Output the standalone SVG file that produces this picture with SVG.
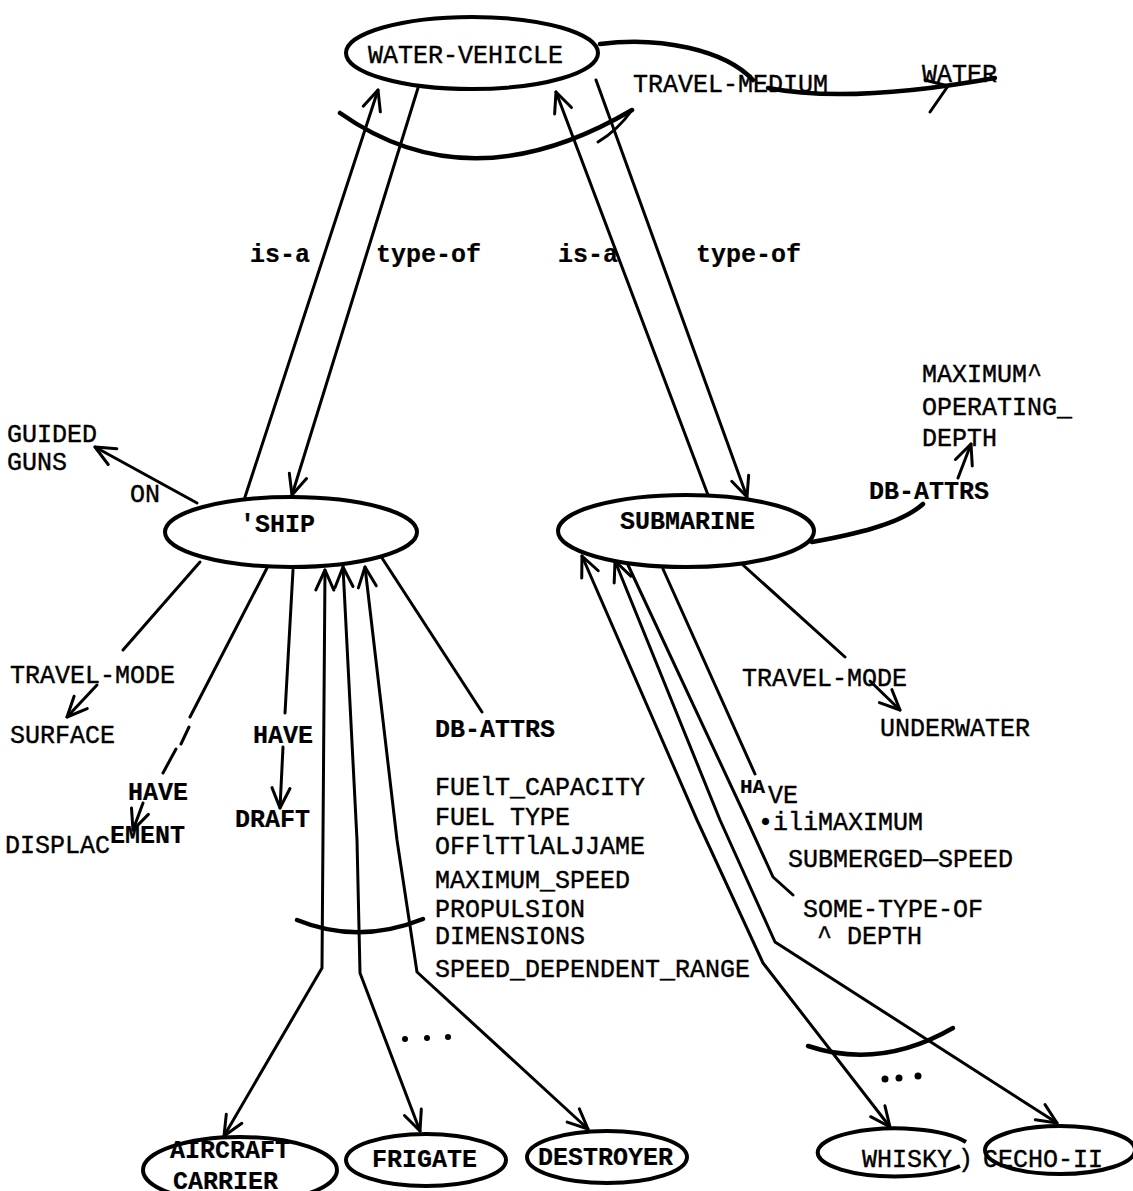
<svg xmlns="http://www.w3.org/2000/svg" width="1133" height="1191" viewBox="0 0 1133 1191">
<defs>
<style>
.e{fill:none;stroke:#000;stroke-width:4}
.c{fill:none;stroke:#000;stroke-width:3;stroke-linecap:round;stroke-linejoin:round}
.k{stroke-width:4.5}
.t{font-family:"Liberation Mono","Courier New",monospace;font-size:25px;fill:#000;stroke:#000;stroke-width:0.4}
.b{font-weight:bold;stroke-width:0.2}
</style>
<marker id="a" markerUnits="userSpaceOnUse" viewBox="0 0 24 24" markerWidth="24" markerHeight="24" refX="22" refY="12" orient="auto-start-reverse">
<path d="M2,3 L22,12 L2,21" fill="none" stroke="#000" stroke-width="3" stroke-linecap="round" stroke-linejoin="round"/>
</marker>
</defs>
<rect width="1133" height="1191" fill="#fff"/>

<g id="connectors">
<path class="c k" d="M600,44 C660,36 725,50 753,80"/>
<path class="c k" d="M768,88 Q850,104 995,78"/>
<path class="c" d="M925,80 L948,86 L930,112"/>
<path class="c k" d="M340,113 Q470,205 632,110"/>
<path class="c" stroke-width="7" d="M598,142 Q618,130 632,110"/>
<path class="c" d="M245,497 L378,90" marker-end="url(#a)"/>
<path class="c" d="M418,88 L292,495" marker-end="url(#a)"/>
<path class="c" d="M708,495 L556,92" marker-end="url(#a)"/>
<path class="c" d="M596,80 L747,497" marker-end="url(#a)"/>
<path class="c" d="M197,503 L95,447" marker-end="url(#a)"/>
<path class="c" d="M200,562 L123,650"/>
<path class="c" d="M97,685 L67,717" marker-end="url(#a)"/>
<path class="c" d="M267,568 L190,717 M189,727 L181,744 M176,749 L163,773"/>
<path class="c" d="M143,803 L133,830" marker-end="url(#a)"/>
<path class="c" d="M293,570 L285,713"/>
<path class="c" d="M283,747 L280,808" marker-end="url(#a)"/>
<path class="c" d="M224,1136 L322,968 L325,570" marker-start="url(#a)" marker-end="url(#a)"/>
<path class="c" d="M420,1131 L360,973 L357,840 L343,567" marker-start="url(#a)" marker-end="url(#a)"/>
<path class="c" d="M588,1129 L417,972 L397,840 L365,567" marker-start="url(#a)" marker-end="url(#a)"/>
<path class="c" d="M382,558 L482,712"/>
<path class="c k" d="M297,920 Q358,945 423,919"/>
<path class="c k" d="M812,542 C850,535 900,525 923,504"/>
<path class="c" d="M958,478 L971,444" marker-end="url(#a)"/>
<path class="c" d="M743,565 L845,657"/>
<path class="c" d="M870,681 L900,710" marker-end="url(#a)"/>
<path class="c" d="M663,569 L755,774"/>
<path class="c" d="M890,1127 L763,963 L697,820 L582,556" marker-start="url(#a)" marker-end="url(#a)"/>
<path class="c" d="M1057,1123 L775,942 L720,820 L615,561" marker-start="url(#a)" marker-end="url(#a)"/>
<path class="c" d="M628,565 L747,820 L773,877 L793,895"/>
<path class="c k" d="M808,1046 Q880,1070 953,1028"/>
<g fill="#000">
<circle cx="405" cy="1039" r="3"/><circle cx="427" cy="1038" r="3"/><circle cx="448" cy="1037" r="3"/>
<circle cx="885" cy="1079" r="3.5"/><circle cx="899" cy="1078" r="3.5"/><circle cx="918" cy="1076" r="3.5"/>
</g>
</g>

<g id="labels" class="t">
<text x="633" y="92">TRAVEL-MEDIUM</text>
<text class="b" x="250" y="262">is-a</text>
<text class="b" x="376" y="262">type-of</text>
<text class="b" x="558" y="262">is-a</text>
<text class="b" x="696" y="262">type-of</text>
<text x="130" y="502">ON</text>
<text x="10" y="683">TRAVEL-MODE</text>
<text class="b" x="128" y="800">HAVE</text>
<text class="b" x="253" y="743">HAVE</text>
<text class="b" x="435" y="737">DB-ATTRS</text>
<text class="b" x="869" y="499">DB-ATTRS</text>
<text x="742" y="686">TRAVEL-MODE</text>
<text class="b" x="740" y="793" font-size="21">HA</text>
<text x="768" y="803">VE</text>
</g>

<g id="water-vehicle"><ellipse class="e" cx="472" cy="53" rx="126" ry="36"/><text class="t" x="368" y="63">WATER-VEHICLE</text></g>
<g id="water"><text class="t" x="922" y="82">WATER</text></g>
<g id="ship"><ellipse class="e" cx="291" cy="532" rx="126" ry="35"/><text class="t b" x="240" y="532">'SHIP</text></g>
<g id="submarine"><ellipse class="e" cx="686" cy="531" rx="128" ry="36"/><text class="t b" x="620" y="529">SUBMARINE</text></g>
<g id="guided-guns"><text class="t" x="7" y="442">GUIDED</text><text class="t" x="7" y="470">GUNS</text></g>
<g id="surface"><text class="t" x="10" y="743">SURFACE</text></g>
<g id="displacement"><text class="t" x="5" y="853">DISPLAC</text><text class="t b" x="110" y="843">EMENT</text></g>
<g id="draft"><text class="t b" x="235" y="827">DRAFT</text></g>
<g id="ship-attrs" class="t">
<text x="435" y="795">FUElT_CAPACITY</text>
<text x="435" y="825">FUEL TYPE</text>
<text x="435" y="854">OFFlTTlALJJAME</text>
<text x="435" y="888">MAXIMUM_SPEED</text>
<text x="435" y="917">PROPULSION</text>
<text x="435" y="944">DIMENSIONS</text>
<text x="435" y="977">SPEED_DEPENDENT_RANGE</text>
</g>
<g id="max-operating-depth" class="t">
<text x="922" y="382">MAXIMUM^</text>
<text x="922" y="415">OPERATING_</text>
<text x="922" y="446">DEPTH</text>
</g>
<g id="underwater"><text class="t" x="880" y="736">UNDERWATER</text></g>
<g id="max-submerged-speed" class="t">
<text x="758" y="830">•iliMAXIMUM</text>
<text x="788" y="867">SUBMERGED—SPEED</text>
</g>
<g id="some-type-of-depth" class="t">
<text x="803" y="917">SOME-TYPE-OF</text>
<text x="817" y="944">^  DEPTH</text>
</g>
<g id="aircraft-carrier"><ellipse class="e" cx="240" cy="1170" rx="97" ry="33"/><text class="t b" x="170" y="1158">AIRCRAFT</text><text class="t b" x="173" y="1189">CARRIER</text></g>
<g id="frigate"><ellipse class="e" cx="426" cy="1160" rx="80" ry="26"/><text class="t b" x="372" y="1167">FRIGATE</text></g>
<g id="destroyer"><ellipse class="e" cx="607" cy="1157" rx="80" ry="26"/><text class="t b" x="538" y="1165">DESTROYER</text></g>
<g id="whisky"><path class="e" d="M966,1142 A78,24 0 1 0 960,1166"/><text class="t" x="862" y="1167">WHISKY</text><text class="t" x="958" y="1167">)</text></g>
<g id="echo-ii"><ellipse class="e" cx="1060" cy="1150" rx="75" ry="24"/><text class="t" x="983" y="1167">CECHO-II</text></g>
</svg>
